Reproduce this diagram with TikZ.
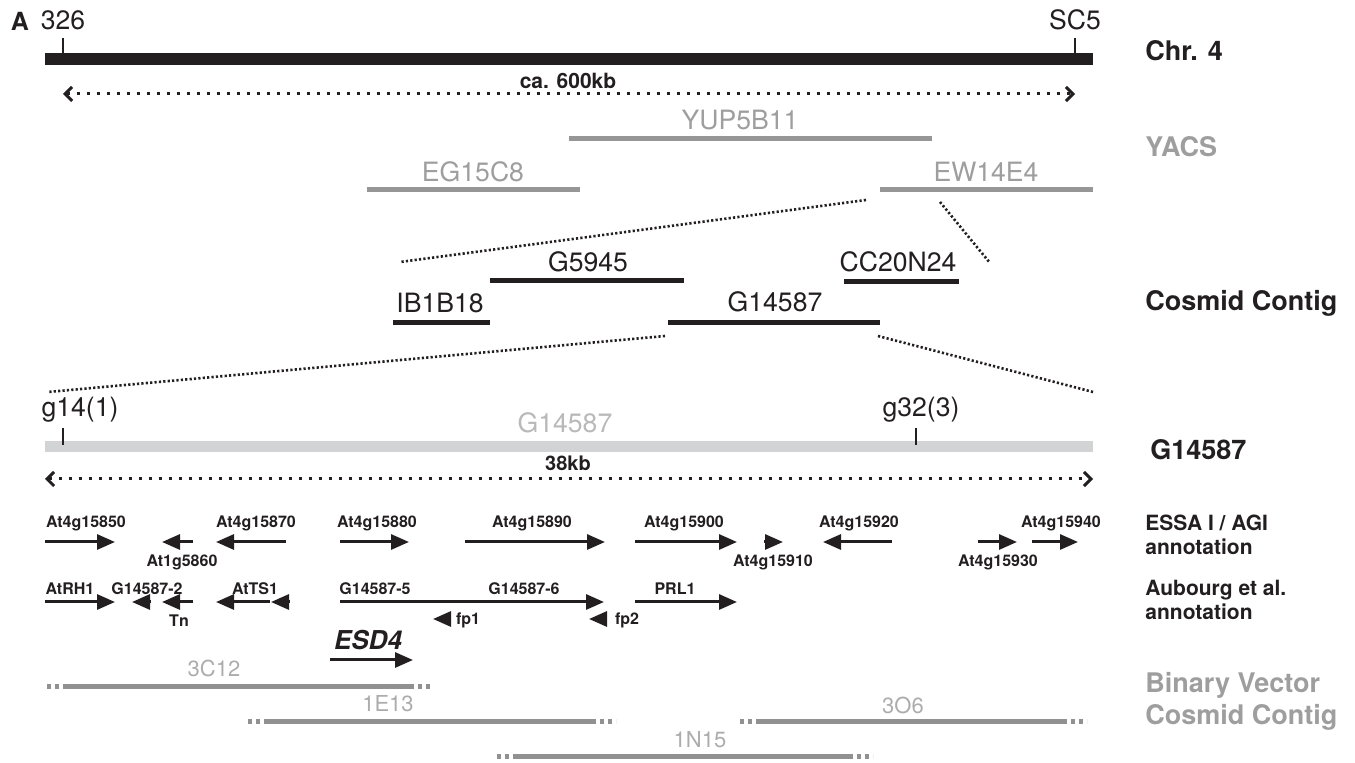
\documentclass[tikz,border=0pt]{standalone}
\usepackage{fontspec}
\setmainfont{TeX Gyre Heros}
\usepackage{tikz}
\usetikzlibrary{arrows.meta, positioning}
\usepackage{xcolor}
\definecolor{ink}{RGB}{35,31,32}
\definecolor{yacgray}{RGB}{150,150,150}
\definecolor{labgray}{RGB}{158,158,158}
\definecolor{vecgray}{RGB}{145,145,145}
\definecolor{veclab}{RGB}{172,172,172}
\definecolor{cosgray}{RGB}{210,211,213}
\definecolor{coslab}{RGB}{185,185,185}

\begin{document}
\begin{tikzpicture}[x=0.5pt, y=-0.5pt, color=ink,
  every node/.style={inner sep=0pt},
  maplabel/.style={font=\fontsize{13.3}{15}\selectfont},
  tracklabel/.style={font=\fontsize{13.5}{16}\selectfont\bfseries, anchor=west},
  annlabel/.style={font=\fontsize{10.5}{12}\selectfont\bfseries, anchor=west, align=left},
  genelabel/.style={font=\fontsize{8}{9.6}\selectfont\bfseries, anchor=base},
  veclabel/.style={font=\fontsize{11}{13}\selectfont, veclab},
  gene/.style={line width=1.5pt, -{Triangle[length=9pt, width=7.5pt]}},
  span/.style={line width=1.5pt, dash pattern=on 1.5pt off 3.5pt,
    {Straight Barb[length=3.5pt, width=7pt]}-{Straight Barb[length=3.5pt, width=7pt]}},
  zoomline/.style={line width=1.3pt, dash pattern=on 1.1pt off 1.1pt},
  yac/.style={yacgray, line width=2.5pt},
  cosmid/.style={line width=2.5pt},
  vec/.style={vecgray, line width=2.5pt},
  vecend/.style={vec, dash pattern=on 2pt off 2pt},
]
\useasboundingbox (0,0) rectangle (1355,763);

% Chromosome 4
\node[font=\fontsize{12.5}{14}\selectfont\bfseries] (panel) at (20,21) {A};
\node[maplabel] (p326) at (63,20) {326};
\node[maplabel] (psc5) at (1075,20) {SC5};
\draw[line width=6pt] (45,59) -- (1093,59);
\draw[line width=1pt] (63,38) -- (63,54);
\draw[line width=1pt] (1075,38) -- (1075,54);
\draw[span] (63,94) -- (1075,94);
\node[font=\fontsize{10.5}{12}\selectfont\bfseries] (kb600) at (568,81) {ca. 600kb};
\node[tracklabel] (chr) at (1145,51) {Chr. 4};

% YACs
\draw[yac] (569,139) -- (932,139);
\node[maplabel, labgray] (yup) at (740,120) {YUP5B11};
\draw[yac] (367,190) -- (580,190);
\node[maplabel, labgray] (eg) at (473,172) {EG15C8};
\draw[yac] (880,190) -- (1093,190);
\node[maplabel, labgray] (ew) at (986,172) {EW14E4};
\node[tracklabel, labgray] (yacs) at (1145,147) {YACS};

% Cosmid contig
\coordinate (ewA) at (866,200);
\coordinate (ewB) at (940,202);
\coordinate (ccA) at (400,262);
\coordinate (ccB) at (990,263);
\draw[zoomline] (ewA) -- (ccA);
\draw[zoomline] (ewB) -- (ccB);
\draw[cosmid] (490,281) -- (684,281);
\node[maplabel] (g5945) at (588,262) {G5945};
\draw[cosmid] (844,282) -- (959,282);
\node[maplabel] (cc20) at (898,262) {CC20N24};
\draw[cosmid] (393,323) -- (490,323);
\node[maplabel] (ib1) at (440,303) {IB1B18};
\draw[cosmid] (668,323) -- (880,323);
\node[maplabel] (g14587) at (775,302) {G14587};
\node[tracklabel] (contig) at (1145,303) {Cosmid Contig};

% G14587 map
\coordinate (gA) at (665,336);
\coordinate (gB) at (878,336);
\coordinate (mapA) at (48,392);
\coordinate (mapB) at (1093,392);
\draw[zoomline] (gA) -- (mapA);
\draw[zoomline] (gB) -- (mapB);
\draw[cosgray, line width=5.5pt] (45,447) -- (1093,447);
\node[maplabel, coslab] (cosname) at (565,423) {G14587};
\node[maplabel] (g14) at (80,410) {g14(1)};
\node[maplabel] (g32) at (921,410) {g32(3)};
\draw[line width=1pt] (63,428) -- (63,445);
\draw[line width=1pt] (916,428) -- (916,445);
\draw[span] (45,479) -- (1093,479);
\node[font=\fontsize{10}{12}\selectfont\bfseries] (kb38) at (568,463) {38kb};
\node[tracklabel] (cosmap) at (1150,450) {G14587};

% ESSA I / AGI annotation
\draw[gene] (45,542) -- (115,542);
\node[genelabel] (a850) at (86,528) {At4g15850};
\draw[gene] (193,542) -- (162,542);
\node[genelabel] (a860) at (182,567) {At1g5860};
\draw[gene] (286,542) -- (216,542);
\node[genelabel] (a870) at (256,528) {At4g15870};
\draw[gene] (340,542) -- (409,542);
\node[genelabel] (a880) at (377,528) {At4g15880};
\draw[gene] (465,542) -- (605,542);
\node[genelabel] (a890) at (532,528) {At4g15890};
\draw[gene] (635,542) -- (737,542);
\node[genelabel] (a900) at (684,528) {At4g15900};
\draw[gene] (764,542) -- (783,542);
\node[genelabel] (a910) at (773,567) {At4g15910};
\draw[gene] (892,542) -- (823,542);
\node[genelabel] (a920) at (859,528) {At4g15920};
\draw[gene] (978,542) -- (1017,542);
\node[genelabel] (a930) at (998,567) {At4g15930};
\draw[gene] (1032,542) -- (1078,542);
\node[genelabel] (a940) at (1061,528) {At4g15940};
\node[annlabel] (essa) at (1145,535) {ESSA I / AGI\\annotation};

% Aubourg et al. annotation
\draw[gene] (45,602) -- (115,602);
\node[genelabel] (rh1) at (70,595) {AtRH1};
\draw[gene] (151,602) -- (132,602);
\node[genelabel] (g2) at (147,595) {G14587-2};
\draw[gene] (193,602) -- (162,602);
\node[genelabel] (tn) at (179,627) {Tn};
\draw[gene] (270,602) -- (216,602);
\draw[gene] (290,602) -- (271,602);
\node[genelabel] (ts1) at (255,595) {AtTS1};
\draw[gene] (340,602) -- (604,602);
\node[genelabel] (g5) at (375,595) {G14587-5};
\node[genelabel] (g6) at (524,595) {G14587-6};
\draw[gene] (451,619) -- (433,619);
\node[genelabel] (fp1) at (468,625) {fp1};
\draw[gene] (607,619) -- (589,619);
\node[genelabel] (fp2) at (627,625) {fp2};
\draw[gene] (635,602) -- (737,602);
\node[genelabel] (prl1) at (675,595) {PRL1};
\node[annlabel] (aub) at (1145,600) {Aubourg et al.\\annotation};

% ESD4
\node[font=\fontsize{13}{15}\selectfont\bfseries\itshape, anchor=base] (esd4) at (368,650) {ESD4};
\draw[gene] (330,660) -- (413,660);

% Binary vector cosmids
\draw[vecend] (47,687) -- (63,687);
\draw[vec] (63,687) -- (414,687);
\draw[vecend] (418,687) -- (432,687);
\node[veclabel] (c3c12) at (214,668) {3C12};
\draw[vecend] (248,722) -- (264,722);
\draw[vec] (264,722) -- (596,722);
\draw[vecend] (600,722) -- (616,722);
\node[veclabel] (c1e13) at (388,704) {1E13};
\draw[vecend] (740,722) -- (756,722);
\draw[vec] (756,722) -- (1067,722);
\draw[vecend] (1071,722) -- (1087,722);
\node[veclabel] (c3o6) at (903,705) {3O6};
\draw[vecend] (497,757) -- (513,757);
\draw[vec] (513,757) -- (853,757);
\draw[vecend] (857,757) -- (873,757);
\node[veclabel] (c1n15) at (700,740) {1N15};
\node[tracklabel, labgray, align=left] (binvec) at (1145,701) {Binary Vector\\Cosmid Contig};
\end{tikzpicture}
\end{document}
